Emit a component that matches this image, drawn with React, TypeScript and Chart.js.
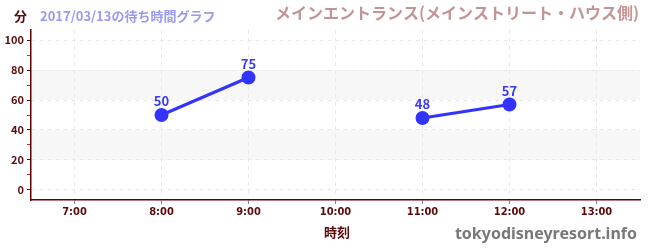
import React, { useEffect, useRef } from "react";
import { Chart, registerables } from "chart.js";

Chart.register(...registerables);

const hours = [8, 9, 10, 11, 12];
const waitTimes: (number | null)[] = [50, 75, null, 48, 57];
const xTickHours = [7, 8, 9, 10, 11, 12, 13];
const yTickValues = [0, 10, 20, 30, 40, 50, 60, 70, 80, 90, 100];
const bands = [
  [20, 40],
  [60, 80],
];
const yUnit = "分";
const subTitle = "2017/03/13の待ち時間グラフ";
const mainTitle = "メインエントランス(メインストリート・ハウス側)";
const xTitle = "時刻";
const credit = "tokyodisneyresort.info";

const FONT = "'Noto Sans CJK JP', 'Noto Sans', sans-serif";
const DARK = "#5c0a0a";

export default function App() {
  const ref = useRef<HTMLCanvasElement>(null);
  useEffect(() => {
    document.body.style.margin = "0";
    const canvas = ref.current!;
    const bandPlugin = {
      id: "bands",
      beforeDraw(chart: any) {
        const { ctx, chartArea, scales } = chart;
        ctx.save();
        ctx.fillStyle = "#f7f7f7";
        for (const [a, b] of bands) {
          const y1 = scales.y.getPixelForValue(b);
          const y2 = scales.y.getPixelForValue(a);
          ctx.fillRect(chartArea.left, y1, chartArea.right - chartArea.left, y2 - y1);
        }
        ctx.restore();
      },
    };
    const textPlugin = {
      id: "texts",
      afterDatasetsDraw(chart: any) {
        const { ctx } = chart;
        const meta = chart.getDatasetMeta(0);
        ctx.save();
        ctx.font = `bold 13px ${FONT}`;
        ctx.fillStyle = "#3a3af0";
        ctx.textAlign = "center";
        ctx.textBaseline = "alphabetic";
        meta.data.forEach((pt: any, i: number) => {
          const v = waitTimes[i];
          if (v == null) return;
          ctx.fillText(String(v), pt.x, pt.y - 9);
        });
        ctx.restore();
      },
      afterDraw(chart: any) {
        const { ctx } = chart;
        ctx.save();
        ctx.textBaseline = "middle";
        ctx.textAlign = "left";
        ctx.font = `bold 13px ${FONT}`;
        ctx.fillStyle = DARK;
        ctx.fillText(yUnit, 14, 16);
        ctx.fillStyle = "#9a9af0";
        ctx.fillText(subTitle, 40, 16);
        ctx.textAlign = "right";
        ctx.font = `bold 16px ${FONT}`;
        ctx.fillStyle = "#c49494";
        ctx.fillText(mainTitle, 639, 13);
        ctx.textAlign = "center";
        ctx.font = `bold 13px ${FONT}`;
        ctx.fillStyle = DARK;
        ctx.fillText(xTitle, 337, 232);
        ctx.textAlign = "right";
        ctx.font = `bold 16px 'Noto Sans', sans-serif`;
        ctx.fillStyle = "#787878";
        ctx.fillText(credit, 637, 234);
        ctx.restore();
      },
    };
    const chart = new Chart(canvas, {
      type: "line",
      data: {
        datasets: [
          {
            data: hours.map((h, i) => ({ x: h, y: waitTimes[i] as any })),
            borderColor: "#3333ff",
            backgroundColor: "#3333ff",
            borderWidth: 3,
            pointRadius: 5.5,
            pointHoverRadius: 5.5,
            spanGaps: false,
          },
        ],
      },
      options: {
        animation: false,
        responsive: false,
        layout: { padding: { top: 30, right: 10, left: 0, bottom: 0 } },
        plugins: { legend: { display: false }, tooltip: { enabled: false }, title: { display: false } },
        scales: {
          x: {
            type: "linear",
            min: 6.5,
            max: 13.5,
            afterBuildTicks: (s: any) => {
              s.ticks = xTickHours.map((v) => ({ value: v }));
            },
            afterFit: (s: any) => {
              s.height = 50;
            },
            ticks: {
              autoSkip: false,
              maxRotation: 0,
              padding: 2,
              color: DARK,
              font: { family: "'Liberation Sans Narrow', 'DejaVu Sans Condensed', sans-serif", size: 11, weight: "bold" },
              callback: (v: any) => `${v}:00`,
            },
            grid: {
              color: "#e8e8e8",
              tickColor: "#888888",
              tickLength: 4,
            },
            border: { color: "#600000", width: 1.5, dash: [4, 4] },
          },
          y: {
            min: -6.67,
            max: 106.67,
            afterBuildTicks: (s: any) => {
              s.ticks = yTickValues.map((v) => ({ value: v }));
            },
            afterFit: (s: any) => {
              s.width = 31;
            },
            ticks: {
              autoSkip: false,
              padding: 3,
              color: DARK,
              font: { family: FONT, size: 11, weight: "bold" },
              callback: (v: any) => (v % 20 === 0 ? String(v) : ""),
            },
            grid: {
              color: (c: any) => (c.tick && c.tick.value % 20 === 0 ? "#e8e8e8" : "rgba(0,0,0,0)"),
              tickColor: (c: any) => (c.tick && c.tick.value % 20 === 0 ? "#222222" : "#dd2222"),
              tickLength: 4,
            },
            border: { color: "#600000", width: 1.5, dash: [4, 4] },
          },
        },
      } as any,
      plugins: [bandPlugin, textPlugin],
    });
    return () => chart.destroy();
  }, []);
  return <canvas ref={ref} width={650} height={250} style={{ display: "block" }} />;
}
